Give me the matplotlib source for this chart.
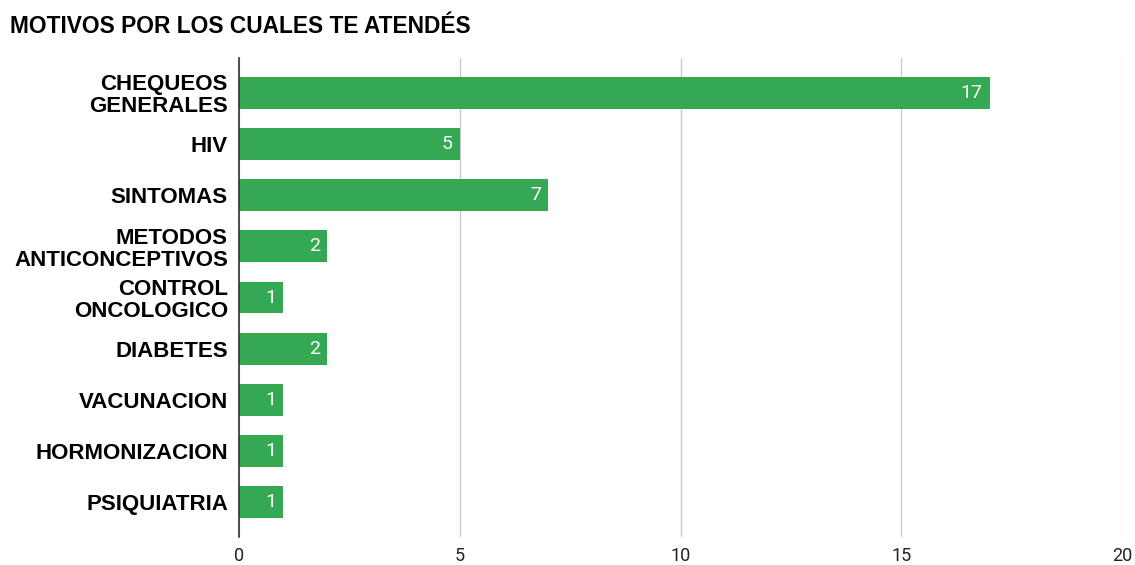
import matplotlib.pyplot as plt

categories = ['CHEQUEOS\nGENERALES', 'HIV', 'SINTOMAS', 'METODOS\nANTICONCEPTIVOS',
              'CONTROL\nONCOLOGICO', 'DIABETES', 'VACUNACION', 'HORMONIZACION', 'PSIQUIATRIA']
counts = [17, 5, 7, 2, 1, 2, 1, 1, 1]
xticks = [0, 5, 10, 15, 20]

GREEN = '#34a853'

def main():
    fig = plt.figure(figsize=(11.35, 5.65), dpi=100)
    ax = fig.add_axes([0.2106, 0.0496, 0.778, 0.8477])

    y = list(range(len(categories)))
    ax.barh(y, counts, height=0.62, color=GREEN, zorder=3)

    # value labels inside the bar ends
    for yi, v in zip(y, counts):
        ax.annotate(str(v), xy=(v, yi), xytext=(-5, 0), textcoords='offset points',
                    ha='right', va='center', color='white', fontsize=14,
                    family='Roboto', zorder=4)

    ax.set_xlim(0, 20)
    ax.set_ylim(len(categories) - 1 + 0.68, -0.68)
    ax.set_xticks(xticks)
    ax.set_xticklabels([str(t) for t in xticks], family='Roboto', fontsize=13, color='#222222')
    ax.set_yticks(y)
    ax.set_yticklabels(categories, family='Liberation Sans', fontweight='bold', fontsize=16,
                       color='#000000', linespacing=1.05)
    ax.tick_params(axis='both', length=0)
    ax.tick_params(axis='x', pad=7)
    ax.tick_params(axis='y', pad=8)

    ax.xaxis.grid(True, color='#cccccc', linewidth=1)
    ax.set_axisbelow(True)
    for s in ['top', 'right', 'bottom']:
        ax.spines[s].set_visible(False)
    ax.spines['left'].set_color('#333333')
    ax.spines['left'].set_linewidth(1.2)
    ax.spines['left'].set_zorder(5)

    fig.text(0.0088, 0.953, 'MOTIVOS POR LOS CUALES TE ATENDÉS', family='Liberation Sans',
             fontweight='bold', fontsize=16.4, ha='left', va='center')

    fig.savefig('out.png', dpi=100)

if __name__ == "__main__":
    main()
